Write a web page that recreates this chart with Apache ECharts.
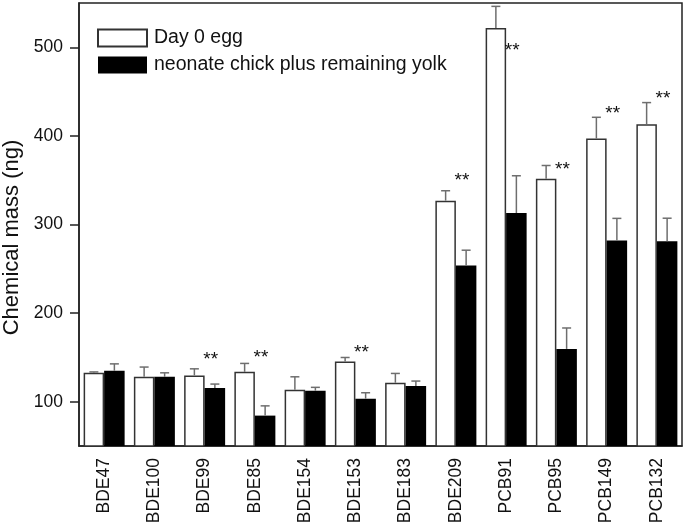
<!DOCTYPE html>
<html>
<head>
<meta charset="utf-8">
<script src="https://cdn.jsdelivr.net/npm/echarts@6/dist/echarts.min.js"></script>
<style>
html,body{margin:0;padding:0;background:#fff;}
#chart{width:685px;height:525px;}
</style>
</head>
<body>
<div id="chart"></div>
<script>
var categories = ['BDE47','BDE100','BDE99','BDE85','BDE154','BDE153','BDE183','BDE209','PCB91','PCB95','PCB149','PCB132'];
var eggValues = [132.6, 128.1, 129.7, 133.7, 113.5, 145.4, 121.4, 326.9, 521.8, 351.6, 397.0, 413.2];
var eggErrors = [1, 11, 7.4, 9.5, 14.6, 4.5, 10.5, 11.2, 24.4, 15, 24, 24.4];
var chickValues = [134.9, 128.1, 115.4, 84.3, 112.4, 103.4, 117.7, 253.8, 313.0, 159.6, 281.9, 281.1];
var chickErrors = [7.8, 4.5, 4.5, 11, 3.8, 6.7, 5.6, 17.2, 42, 23.6, 25, 26];
var sigMarks = ['', '', '**', '**', '', '**', '', '**', '**', '**', '**', '**'];
var sigAnchor = [null, null, 152, 154, null, 160, null, 354, 501, 366, 429, 446];
var yTicks = [100, 200, 300, 400, 500];
var seriesNames = ['Day 0 egg', 'neonate chick plus remaining yolk'];

var FONT = 'Liberation Sans, Arial, Helvetica, sans-serif';
var BAR_W = 20.5;

function errData(vals, errs) {
  return vals.map(function (v, i) { return [i, v, v + errs[i]]; });
}
function errRender(side) {
  return function (params, api) {
    var i = api.value(0);
    var p0 = api.coord([i, api.value(1)]);
    var p1 = api.coord([i, api.value(2)]);
    var x = p0[0] + side * BAR_W / 2;
    var style = { stroke: '#6e6e6e', lineWidth: 1.5 };
    return {
      type: 'group',
      children: [
        { type: 'line', shape: { x1: x, y1: p0[1], x2: x, y2: p1[1] }, style: style },
        { type: 'line', shape: { x1: x - 4.5, y1: p1[1], x2: x + 4.5, y2: p1[1] }, style: style }
      ]
    };
  };
}

var starData = [];
sigMarks.forEach(function (m, i) { if (m) starData.push([i, sigAnchor[i], m]); });

var chart = echarts.init(document.getElementById('chart'));
chart.setOption({
  animation: false,
  backgroundColor: '#fff',
  textStyle: { fontFamily: FONT },
  grid: { left: 79, right: 3, top: 3, bottom: 79, outerBoundsMode: 'none', containLabel: false, show: true, borderColor: '#222', borderWidth: 1.5, backgroundColor: 'transparent' },
  legend: {
    orient: 'vertical', left: 97, top: 28, padding: 0,
    itemWidth: 49, itemHeight: 17, itemGap: 7,
    icon: 'rect',
    textStyle: { fontSize: 19.5, color: '#111', fontFamily: FONT, padding: [0, 0, 0, 2] },
    data: seriesNames
  },
  xAxis: {
    type: 'category', data: categories,
    axisLine: { lineStyle: { color: '#222', width: 1.5 } },
    axisTick: { alignWithLabel: true, length: 9, lineStyle: { color: '#222', width: 1.5 } },
    axisLabel: { rotate: 90, fontSize: 17.5, color: '#111', margin: 12, fontFamily: FONT }
  },
  yAxis: {
    type: 'value', min: 50, max: 550,
    name: 'Chemical mass (ng)', nameLocation: 'middle', nameGap: 52,
    nameTextStyle: { fontSize: 22, color: '#111', fontFamily: FONT, padding: [0, 26, 0, 0] },
    splitLine: { show: false },
    axisLine: { show: true, lineStyle: { color: '#222', width: 1.5 } },
    axisTick: { show: true, length: 9, customValues: yTicks, lineStyle: { color: '#222', width: 1.5 } },
    axisLabel: { fontSize: 17.5, color: '#111', margin: 16, customValues: yTicks, fontFamily: FONT }
  },
  series: [
    {
      name: seriesNames[0], type: 'bar', data: eggValues, barWidth: BAR_W, barGap: '0%',
      itemStyle: { color: '#fff', borderColor: '#333', borderWidth: 1.5 }
    },
    {
      name: seriesNames[1], type: 'bar', data: chickValues, barWidth: BAR_W, barGap: '0%',
      itemStyle: { color: '#000', borderColor: '#000', borderWidth: 0 }
    },
    {
      type: 'custom', data: errData(eggValues, eggErrors), renderItem: errRender(-1), z: 5,
      encode: { x: 0, y: [1, 2] }, silent: true
    },
    {
      type: 'custom', data: errData(chickValues, chickErrors), renderItem: errRender(1), z: 5,
      encode: { x: 0, y: [1, 2] }, silent: true
    },
    {
      type: 'custom', data: starData, z: 6, silent: true,
      encode: { x: 0, y: 1 },
      renderItem: function (params, api) {
        var p = api.coord([api.value(0), api.value(1)]);
        return {
          type: 'text',
          style: {
            x: p[0] + 6, y: p[1] + 4, text: starData[params.dataIndex][2],
            fontSize: 19, fontWeight: 'normal', fontFamily: FONT, fill: '#111',
            align: 'center', verticalAlign: 'middle'
          }
        };
      }
    }
  ]
});
</script>
</body>
</html>
